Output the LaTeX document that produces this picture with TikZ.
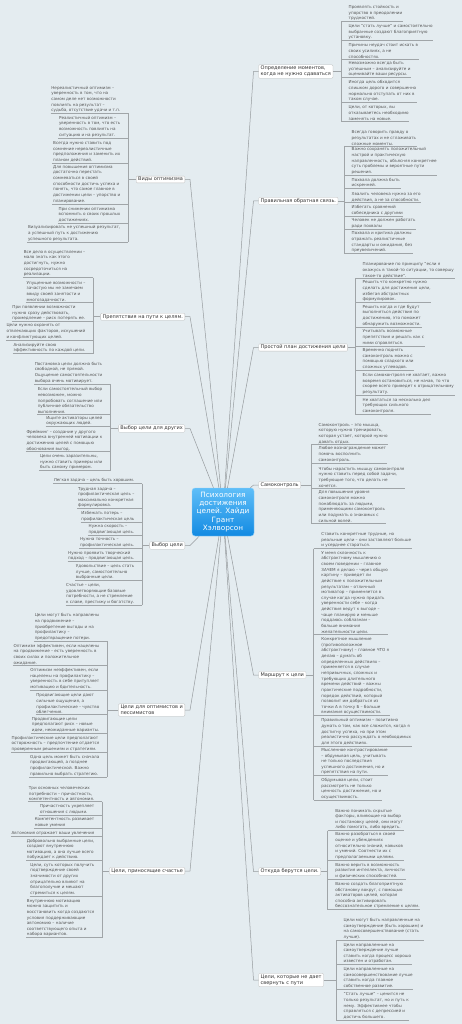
\documentclass[tikz,border=0pt]{standalone}
\usepackage{fontspec}
\setmainfont{DejaVu Sans}
\definecolor{bg}{RGB}{228,236,240}
\definecolor{leafgray}{RGB}{85,85,85}
\definecolor{linegray}{RGB}{160,165,168}
\definecolor{conngray}{RGB}{150,155,158}
\definecolor{ctop}{RGB}{95,190,248}
\definecolor{cbot}{RGB}{18,138,226}
\tikzset{
  leaf/.style={font=\fontsize{4.1}{5.65}\selectfont, text=leafgray, align=left, inner xsep=0.5pt, inner ysep=0.7pt},
  uline/.style={draw=linegray, line width=0.5pt},
  conn/.style={draw=conngray, line width=0.5pt},
  branch/.style={font=\fontsize{5}{6.3}\selectfont, text=black!80, align=left, fill=white, draw=black!25, line width=0.3pt, rounded corners=1pt, inner xsep=2pt, inner ysep=1.2pt},
  central/.style={font=\fontsize{7.3}{8.3}\selectfont, text=white, align=center, top color=ctop, bottom color=cbot, draw=ctop!70!white, line width=0.4pt, rounded corners=3pt, minimum width=62pt, minimum height=48pt, inner sep=1pt}
}
\newcommand\lleaf[4]{%
  \coordinate (#1b) at (#2,#3);
  \node[leaf,anchor=south east] (#1) at (#2-7,#3) {#4};
  \draw[uline] (#1.south west) -- (#1b);
}
\newcommand\rleaf[4]{%
  \coordinate (#1b) at (#2,#3);
  \node[leaf,anchor=south west] (#1) at (#2+7,#3) {#4};
  \draw[uline] (#1b) -- (#1.south east);
}
\begin{document}
\begin{tikzpicture}[x=1pt,y=-1pt]
\fill[bg] (0,0) rectangle (462,1024);
\useasboundingbox (0,0) rectangle (462,1024);

\node[central] (c) at (223,512) {Психология\\достижения\\целей. Хайди\\Грант\\Хэлворсон};

% ---------------- right branches
\node[branch,anchor=west] (R1) at (258.5,71.5) {Определение моментов,\\когда не нужно сдаваться};
\node[branch,anchor=west] (R2) at (258.5,201) {Правильная обратная связь.};
\node[branch,anchor=west] (R3) at (258.5,347.5) {Простой план достижения цели};
\node[branch,anchor=west] (R4) at (258.5,485) {Самоконтроль};
\node[branch,anchor=west] (R5) at (258.5,675) {Маршрут к цели};
\node[branch,anchor=west] (R6) at (258.5,871.5) {Откуда берутся цели.};
\node[branch,anchor=west] (R7) at (258.5,980) {Цели, которые не дает\\свернуть с пути};

% ---------------- left branches
\node[branch,anchor=east] (L1) at (185,179.5) {Виды оптимизма};
\node[branch,anchor=east] (L2) at (185,316.7) {Препятствия на пути к целям.};
\node[branch,anchor=east] (L3) at (185,428.5) {Выбор цели для других};
\node[branch,anchor=east] (L4) at (185,545.5) {Выбор цели};
\node[branch,anchor=east] (L5) at (185,710) {Цели для оптимистов и\\пессимистов};
\node[branch,anchor=east] (L6) at (185,871) {Цели, приносящие счастье};

% ---------------- connectors to centre
\foreach \b in {L1,L2,L3,L4,L5,L6} {\draw[conn] (\b.east) -- ++(5,0) -- (c);}
\foreach \b in {R1,R2,R3,R4,R5,R6,R7} {\draw[conn] (\b.west) -- ++(-5,0) -- (c);}

% ---------------- L1
\lleaf{L1a}{128}{113.5}{Нереалистичный оптимизм –\\уверенность в том, что на\\самом деле нет возможности\\повлиять на результат –\\судьба, отсутствие удачи и т.п.}
\lleaf{L1c2}{128}{138}{Реалистичный оптимизм –\\уверенность в том, что есть\\возможность повлиять на\\ситуацию и на результат.}
\lleaf{L1c}{128}{163}{Всегда нужно ставить под\\сомнение нереалистичные\\предположения и заменить их\\планом действий.}
\lleaf{L1d}{128}{204}{Для повышения оптимизма\\достаточно перестать\\сомневаться в своей\\способности достичь успеха и\\понять, что самое главное в\\достижении цели – упорство и\\планирование.}
\lleaf{L1e}{128}{223}{При снижении оптимизма\\вспомнить о своих прошлых\\достижениях.}
\lleaf{L1f}{128}{242}{Визуализировать не успешный результат,\\а успешный путь к достижению\\успешного результата.}
\draw[uline] (L1ab) -- (L1fb);
\draw[uline] (L1.west) -- (L1.west -| L1ab);

% ---------------- L2
\lleaf{L2a}{93}{277.7}{Все дело в осуществлении –\\мало знать как этого\\достигнуть, нужно\\сосредоточиться на\\реализации.}
\lleaf{L2b}{93}{302.7}{Упущенные возможности –\\зачастую мы не замечаем\\ввиду своей занятости и\\многозадачности.}
\lleaf{L2c}{93}{321.7}{При появлении возможности\\нужно сразу действовать,\\промедление – риск потерять ее.}
\lleaf{L2d}{93}{340}{Цели нужно охранять от\\отвлекающих факторов, искушений\\и конфликтующих целей.}
\lleaf{L2e}{93}{353.7}{Анализируйте свою\\эффективность по каждой цели.}
\draw[uline] (L2ab) -- (L2eb);
\draw[uline] (L2.west) -- (L2.west -| L2ab);

% ---------------- L3
\lleaf{L3a}{110}{384}{Постановка цели должна быть\\свободной, не прямой.\\Ощущение самостоятельности\\выбора очень мотивирует.}
\lleaf{L3b}{110}{414.3}{Если самостоятельный выбор\\невозможен, можно\\попробовать соглашение или\\публичное обязательство\\выполнения.}
\lleaf{L3c}{110}{426.7}{Ищите активаторы целей\\окружающих людей.}
\lleaf{L3d}{110}{451.7}{Фрейминг – создание у другого\\человека внутренней мотивации к\\достижению целей с помощью\\обоснования выгод.}
\lleaf{L3e}{110}{470.7}{Цели очень заразительны,\\нужно ставить примеры или\\быть самому примером.}
\draw[uline] (L3ab) -- (L3eb);
\draw[uline] (L3.west) -- (L3.west -| L3ab);

% ---------------- L4
\lleaf{L4a}{142}{483.7}{Легкая задача – цель быть хорошим.}
\lleaf{L4b}{142}{508.7}{Трудная задача –\\профилактическая цель –\\максимально конкретная\\формулировка.}
\lleaf{L4c}{142}{522}{Избежать потерь –\\профилактическая цель}
\lleaf{L4d}{142}{535}{Нужна скорость –\\продвигающая цель.}
\lleaf{L4e}{142}{548.3}{Нужна точность –\\профилактическая цель.}
\lleaf{L4f}{142}{561.7}{Нужно проявить творческий\\подход – продвигающая цель.}
\lleaf{L4g}{142}{580.7}{Удовольствие – цель стать\\лучше, самостоятельно\\выбранные цели.}
\lleaf{L4h}{142}{605.3}{Счастье – цели,\\удовлетворяющие базовые\\потребности, а не стремление\\к славе, престижу и богатству.}
\draw[uline] (L4ab) -- (L4hb);
\draw[uline] (L4.west) -- (L4.west -| L4ab);

% ---------------- L5
\lleaf{L5a}{107}{641.3}{Цели могут быть направлены\\на продвижение –\\приобретение выгоды и на\\профилактику –\\предотвращение потери.}
\lleaf{L5b}{107}{665.7}{Оптимизм эффективен, если нацелены\\на продвижение – есть уверенность в\\своих силах и положительное\\ожидание.}
\lleaf{L5c}{107}{690}{Оптимизм неэффективен, если\\нацелены на профилактику –\\уверенность в себе притупляет\\мотивацию и бдительность.}
\lleaf{L5d}{107}{714.7}{Продвигающие цели дают\\сильные ощущения, а\\профилактические – чувство\\облегчения.}
\lleaf{L5e}{107}{733.3}{Продвигающие цели\\предполагают риск – новые\\идеи, неожиданные варианты.}
\lleaf{L5f}{107}{752.3}{Профилактические цели предполагают\\осторожность – предпочтение отдается\\проверенным решениям и стратегиям.}
\lleaf{L5g}{107}{777}{Одна цель может быть сначала\\продвигающей, а позднее\\профилактической. Важно\\правильно выбрать стратегию.}
\draw[uline] (L5ab) -- (L5gb);
\draw[uline] (L5.west) -- (L5.west -| L5ab);

% ---------------- L6
\lleaf{L6a}{102}{801.7}{Три основных человеческих\\потребности – причастность,\\компетентность и автономия.}
\lleaf{L6b}{102}{815}{Причастность укрепляет\\отношения с людьми.}
\lleaf{L6c}{102}{828.3}{Компетентность развивает\\новые умения}
\lleaf{L6d}{102}{836}{Автономия отражает ваши увлечения}
\lleaf{L6e}{102}{860.7}{Добровольно выбранные цели,\\создают внутреннюю\\мотивацию, а она лучше всего\\побуждает к действию.}
\lleaf{L6f}{102}{896.3}{Цели, суть которых получить\\подтверждение своей\\значимости от других\\отрицательно влияют на\\благополучие и мешают\\стремиться к целям.}
\lleaf{L6g}{102}{937.7}{Внутреннюю мотивацию\\можно защитить и\\восстановить когда создаются\\условия поддерживающие\\автономию – наличие\\соответствующего опыта и\\набора вариантов.}
\draw[uline] (L6ab) -- (L6gb);
\draw[uline] (L6.west) -- (L6.west -| L6ab);

% ---------------- R1
\rleaf{R1a}{341}{21.7}{Проявлять стойкость и\\упорство в преодолении\\трудностей.}
\rleaf{R1b}{341}{40.7}{Цели "стать лучше" и самостоятельно\\выбранные создают благоприятную\\установку.}
\rleaf{R1c}{341}{59}{Причины неудач стоит искать в\\своих усилиях, а не\\способностях.}
\rleaf{R1d}{341}{77.7}{Невозможно всегда быть\\успешным – анализируйте и\\оценивайте ваши ресурсы.}
\rleaf{R1e}{341}{102.7}{Иногда цель обходится\\слишком дорого и совершенно\\нормально отступать от них в\\таком случае.}
\rleaf{R1f}{341}{121}{Цели, от которых, вы\\отказываетесь необходимо\\заменять на новые.}
\draw[uline] (R1ab) -- (R1fb);
\draw[uline] (R1.east) -- (R1.east -| R1ab);

% ---------------- R2
\rleaf{R2a}{344}{146}{Всегда говорить правду о\\результатах и не сглаживать\\сложные моменты.}
\rleaf{R2b}{344}{175.3}{Важно сохранять положительный\\настрой и практическую\\направленность, объясняя конкретнее\\суть проблемы и вероятные пути\\решения.}
\rleaf{R2c}{344}{188.7}{Похвала должна быть\\искренней.}
\rleaf{R2d}{344}{202.7}{Хвалить человека нужно за его\\действия, а не за способности.}
\rleaf{R2e}{344}{216}{Избегать сравнений\\собеседника с другими}
\rleaf{R2f}{344}{229.3}{Человек не должен работать\\ради похвалы}
\rleaf{R2g}{344}{253.7}{Похвала и критика должны\\отражать реалистичные\\стандарты и ожидания, без\\преувеличений.}
\draw[uline] (R2ab) -- (R2gb);
\draw[uline] (R2.east) -- (R2.east -| R2ab);

% ---------------- R3
\rleaf{R3a}{355}{278.7}{Планирование по принципу "если я\\окажусь в такой-то ситуации, то совершу\\такое-то действие".}
\rleaf{R3b}{355}{302.7}{Решить что конкретно нужно\\сделать для достижения цели,\\избегая абстрактных\\формулировок.}
\rleaf{R3c}{355}{327}{Решить когда и где будут\\выполняться действия по\\достижению, это поможет\\обнаружить возможности.}
\rleaf{R3d}{355}{346}{Учитывать возможные\\препятствия и решать как с\\ними справляться.}
\rleaf{R3e}{355}{370.3}{Временно поднять\\самоконтроль можно с\\помощью сладкого или\\сложных углеводов.}
\rleaf{R3f}{355}{395.3}{Если самоконтроля не хватает, важно\\вовремя остановиться, не начав, то что\\скорее всего приведет к отрицательному\\результату.}
\rleaf{R3g}{355}{414.3}{Не хвататься за несколько дел\\требующих сильного\\самоконтроля.}
\draw[uline] (R3ab) -- (R3gb);
\draw[uline] (R3.east) -- (R3.east -| R3ab);

% ---------------- R4
\rleaf{R4a}{311}{444.7}{Самоконтроль – это мышца,\\которую нужно тренировать,\\которая устает, которой нужно\\давать отдых.}
\rleaf{R4b}{311}{463}{Любое вознаграждение может\\помочь восполнить\\самоконтроль.}
\rleaf{R4c}{311}{488}{Чтобы нарастить мышцу самоконтроля\\нужно ставить перед собой задачи,\\требующие того, что делать не\\хочется.}
\rleaf{R4d}{311}{523}{Для повышения уровня\\самоконтроля можно\\понаблюдать за людьми,\\применяющими самоконтроль\\или подумать о знакомых с\\сильной волей.}
\draw[uline] (R4ab) -- (R4db);
\draw[uline] (R4.east) -- (R4.east -| R4ab);

% ---------------- R5
\rleaf{R5a}{313.7}{548.7}{Ставить конкретные трудные, но\\реальные цели – они заставляют больше\\и усерднее стараться.}
\rleaf{R5b}{313.7}{634.7}{У меня склонность к\\абстрактному мышлению о\\своем поведении – главное\\ЗАЧЕМ я делаю – через общую\\картину – приведет ли\\действие к положительным\\результатам – отличный\\мотиватор – применяется в\\случае когда нужно придать\\уверенности себе – когда\\действия ведут к выгоде –\\чаще планирую и меньше\\поддаюсь соблазнам –\\больше внимания\\желательности цели.}
\rleaf{R5c}{313.7}{715.7}{Конкретное мышление\\(противоположное\\абстрактному) – главное ЧТО я\\делаю – думать об\\определенных действиях –\\применяется в случае\\непривычных, сложных и\\требующих длительного\\времени действий – важны\\практические подробности,\\порядок действий, который\\позволит им добраться из\\точки А в точку Б – больше\\внимания осуществимости.}
\rleaf{R5d}{313.7}{746}{Правильный оптимизм – позитивно\\думать о том, как все сложится, когда я\\достигну успеха, но при этом\\реалистично рассуждать о необходимых\\для этого действиях.}
\rleaf{R5e}{313.7}{775.7}{Мысленное контрастирование\\– обдумывая цель, учитывать\\не только последствия\\успешного достижения, но и\\препятствия на пути.}
\rleaf{R5f}{313.7}{800.3}{Обдумывая цели, стоит\\рассмотреть не только\\ценность достижения, но и\\осуществимость.}
\draw[uline] (R5ab) -- (R5fb);
\draw[uline] (R5.east) -- (R5.east -| R5ab);

% ---------------- R6
\rleaf{R6a}{327.7}{830.7}{Важно понимать скрытые\\факторы, влияющие на выбор\\и постановку целей, они могут\\либо помогать, либо вредить.}
\rleaf{R6b}{327.7}{860.3}{Важно разобраться в своей\\оценке и убеждениях\\относительно знаний, навыков\\и умений. Соотнести их с\\предполагаемыми целями.}
\rleaf{R6c}{327.7}{879.3}{Важно верить в возможность\\развития интеллекта, личности\\и физических способностей.}
\rleaf{R6d}{327.7}{909.7}{Важно создать благоприятную\\обстановку вокруг, с помощью\\активаторов целей, которая\\способна активировать\\бессознательное стремление к целям.}
\draw[uline] (R6ab) -- (R6db);
\draw[uline] (R6.east) -- (R6.east -| R6ab);

% ---------------- R7
\rleaf{R7a}{336}{940.3}{Цели могут быть направленные на\\самоутверждение (быть хорошим) и\\на самосовершенствование (стать\\лучше).}
\rleaf{R7b}{336}{964.7}{Цели направленные на\\самоутверждение лучше\\ставить когда процесс хорошо\\известен и отработан.}
\rleaf{R7c}{336}{989.3}{Цели направленные на\\самосовершенствование лучше\\ставить когда главное\\собственное развитие.}
\rleaf{R7d}{336}{1020}{"Стать лучше" – ценится не\\только результат, но и путь к\\нему. Эффективнее чтобы\\справляться с депрессией и\\достичь большего.}
\draw[uline] (R7ab) -- (R7db);
\draw[uline] (R7.east) -- (R7.east -| R7ab);
\end{tikzpicture}
\end{document}
